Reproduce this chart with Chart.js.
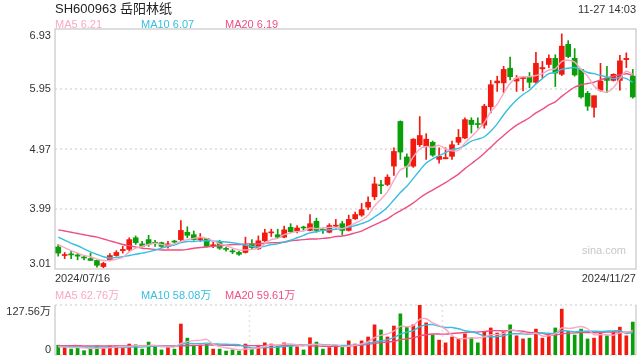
<!DOCTYPE html>
<html>
<head>
<meta charset="utf-8">
<script src="https://cdn.jsdelivr.net/npm/chart.js@4.4.1/dist/chart.umd.min.js"></script>
<style>
body{margin:0;background:#fff}
#wrap{position:relative;width:640px;height:360px;overflow:hidden;font-family:Arial,"Liberation Sans","Noto Sans CJK SC",sans-serif;color:#333}
canvas{position:absolute;left:0}
.t{position:absolute;white-space:nowrap;font-size:11px;line-height:11px}
</style>
</head>
<body>
<div id="wrap">
  <canvas id="kline" width="640" height="280" style="top:0"></canvas>
  <canvas id="vol" width="640" height="80" style="top:280px"></canvas>
  <div class="t" style="left:55px;top:2px;font-size:13px;line-height:13px;color:#222">SH600963 岳阳林纸</div>
  <div class="t" style="right:4px;top:4px;color:#333">11-27 14:03</div>
  <div class="t" style="left:55px;top:19px;color:#f9a8c4">MA5 6.21</div>
  <div class="t" style="left:141px;top:19px;color:#35bfe0">MA10 6.07</div>
  <div class="t" style="left:225px;top:19px;color:#ee4f83">MA20 6.19</div>
  <div class="t" style="left:582px;top:245px;color:#c8c8c8">sina.com</div>
  <div class="t" id="xFirst" style="left:55px;top:273px"></div>
  <div class="t" id="xLast" style="right:4px;top:273px"></div>
  <div class="t" style="left:55px;top:290px;color:#f9a8c4">MA5 62.76万</div>
  <div class="t" style="left:141px;top:290px;color:#35bfe0">MA10 58.08万</div>
  <div class="t" style="left:225px;top:290px;color:#ee4f83">MA20 59.61万</div>
</div>
<script>
// trading days 2024/07/16 .. 2024/11/27
const dates = [
  "2024/07/16","2024/07/17","2024/07/18","2024/07/19","2024/07/22","2024/07/23","2024/07/24","2024/07/25","2024/07/26","2024/07/29","2024/07/30","2024/07/31",
  "2024/08/01","2024/08/02","2024/08/05","2024/08/06","2024/08/07","2024/08/08","2024/08/09","2024/08/12","2024/08/13","2024/08/14","2024/08/15","2024/08/16",
  "2024/08/19","2024/08/20","2024/08/21","2024/08/22","2024/08/23","2024/08/26","2024/08/27","2024/08/28","2024/08/29","2024/08/30",
  "2024/09/02","2024/09/03","2024/09/04","2024/09/05","2024/09/06","2024/09/09","2024/09/10","2024/09/11","2024/09/12","2024/09/13",
  "2024/09/18","2024/09/19","2024/09/20","2024/09/23","2024/09/24","2024/09/25","2024/09/26","2024/09/27","2024/09/30",
  "2024/10/08","2024/10/09","2024/10/10","2024/10/11","2024/10/14","2024/10/15","2024/10/16","2024/10/17","2024/10/18","2024/10/21",
  "2024/10/22","2024/10/23","2024/10/24","2024/10/25","2024/10/28","2024/10/29","2024/10/30","2024/10/31",
  "2024/11/01","2024/11/04","2024/11/05","2024/11/06","2024/11/07","2024/11/08","2024/11/11","2024/11/12","2024/11/13","2024/11/14",
  "2024/11/15","2024/11/18","2024/11/19","2024/11/20","2024/11/21","2024/11/22","2024/11/25","2024/11/26","2024/11/27"
];

const opens = [
  3.37,3.23,3.25,3.24,3.20,3.18,3.15,3.05,3.16,3.23,
  3.31,3.33,3.52,3.42,3.49,3.44,3.44,3.38,3.46,3.49,
  3.61,3.57,3.49,3.51,3.39,3.46,3.34,3.30,3.28,3.28,
  3.42,3.34,3.47,3.60,3.57,3.53,3.69,3.63,3.69,3.64,
  3.79,3.65,3.61,3.71,3.75,3.64,3.83,3.89,4.02,4.19,
  4.38,4.39,4.69,5.42,4.84,4.69,5.04,5.01,5.08,4.80,
  4.81,4.85,5.08,5.15,5.44,5.38,5.36,5.66,6.05,6.05,
  6.29,6.08,6.12,6.14,6.06,6.28,6.35,6.45,6.19,6.68,
  6.45,6.27,5.88,5.65,5.93,6.13,6.09,6.09,6.43,6.16
];
const highs = [
  3.41,3.28,3.30,3.27,3.23,3.27,3.15,3.12,3.26,3.31,
  3.38,3.52,3.55,3.46,3.56,3.48,3.45,3.46,3.48,3.80,
  3.70,3.63,3.59,3.51,3.45,3.48,3.37,3.33,3.30,3.53,
  3.49,3.55,3.66,3.66,3.66,3.71,3.75,3.72,3.71,3.90,
  3.84,3.68,3.75,3.82,3.79,3.89,3.94,4.08,4.19,4.51,
  4.46,4.55,4.99,5.43,4.89,5.14,5.50,5.22,5.10,4.99,
  4.99,5.10,5.29,5.48,5.48,5.48,5.70,6.09,6.16,6.32,
  6.47,6.17,6.14,6.22,6.55,6.40,6.51,6.51,6.85,6.74,
  6.61,6.27,5.91,5.84,6.37,6.32,6.20,6.50,6.54,6.27
];
const lows = [
  3.22,3.18,3.18,3.16,3.16,3.15,3.04,3.03,3.14,3.22,
  3.27,3.30,3.41,3.37,3.38,3.38,3.36,3.35,3.43,3.46,
  3.52,3.48,3.46,3.37,3.36,3.33,3.30,3.26,3.23,3.27,
  3.34,3.33,3.46,3.54,3.52,3.52,3.60,3.60,3.64,3.63,
  3.61,3.59,3.60,3.68,3.57,3.63,3.82,3.87,3.98,4.14,
  4.24,4.37,4.54,4.80,4.51,4.67,5.01,4.80,4.85,4.74,
  4.81,4.80,5.04,5.14,5.23,5.31,5.31,5.56,5.91,5.89,
  6.10,5.91,5.92,5.97,6.04,6.13,6.30,5.99,6.17,6.46,
  6.16,5.80,5.60,5.49,5.91,5.89,6.08,5.93,6.30,5.80
];
const closes = [
  3.27,3.24,3.24,3.22,3.19,3.15,3.07,3.10,3.23,3.28,
  3.33,3.49,3.44,3.38,3.41,3.43,3.38,3.42,3.45,3.64,
  3.56,3.49,3.50,3.38,3.40,3.35,3.33,3.29,3.25,3.40,
  3.36,3.47,3.60,3.61,3.53,3.65,3.62,3.68,3.68,3.75,
  3.64,3.64,3.72,3.72,3.64,3.82,3.90,3.98,4.10,4.40,
  4.37,4.51,4.93,4.92,4.69,5.13,5.19,5.13,4.87,4.85,
  4.83,5.04,5.16,5.45,5.37,5.37,5.67,6.02,6.08,6.27,
  6.15,6.12,6.14,6.06,6.37,6.30,6.45,6.21,6.65,6.48,
  6.18,5.82,5.67,5.84,6.08,6.09,6.19,6.41,6.45,5.82
];

const ma5 = [
  3.41,3.36,3.31,3.27,3.23,3.21,3.17,3.15,3.15,3.17,
  3.20,3.29,3.35,3.38,3.41,3.43,3.41,3.40,3.42,3.46,
  3.49,3.51,3.53,3.51,3.47,3.42,3.39,3.35,3.32,3.32,
  3.33,3.35,3.42,3.49,3.51,3.57,3.60,3.62,3.63,3.68,
  3.67,3.68,3.69,3.69,3.67,3.71,3.76,3.81,3.89,4.04,
  4.15,4.27,4.46,4.63,4.68,4.84,4.97,5.01,5.00,5.03,
  4.97,4.94,4.95,5.07,5.17,5.28,5.40,5.58,5.70,5.88,
  6.04,6.13,6.15,6.15,6.17,6.20,6.26,6.28,6.40,6.42,
  6.39,6.27,6.16,6.00,5.92,5.90,5.97,6.12,6.24,6.19
];
const ma10 = [
  3.53,3.48,3.43,3.39,3.34,3.29,3.25,3.21,3.19,3.20,
  3.21,3.23,3.25,3.27,3.29,3.32,3.35,3.38,3.40,3.44,
  3.46,3.46,3.47,3.47,3.47,3.46,3.45,3.44,3.42,3.40,
  3.38,3.37,3.38,3.41,3.42,3.45,3.48,3.52,3.56,3.60,
  3.62,3.64,3.65,3.66,3.67,3.69,3.72,3.75,3.79,3.86,
  3.93,4.02,4.14,4.26,4.36,4.49,4.62,4.74,4.81,4.86,
  4.91,4.96,4.98,5.03,5.10,5.13,5.17,5.26,5.38,5.53,
  5.66,5.77,5.86,5.93,6.03,6.12,6.20,6.22,6.27,6.29,
  6.30,6.27,6.22,6.20,6.17,6.15,6.12,6.14,6.12,6.06
];
const ma20 = [
  3.65,3.63,3.61,3.59,3.57,3.55,3.53,3.50,3.47,3.44,
  3.41,3.39,3.37,3.35,3.34,3.33,3.32,3.32,3.32,3.32,
  3.33,3.35,3.36,3.37,3.38,3.39,3.40,3.41,3.41,3.42,
  3.42,3.42,3.43,3.44,3.44,3.45,3.47,3.48,3.49,3.50,
  3.50,3.51,3.52,3.54,3.55,3.57,3.60,3.63,3.68,3.73,
  3.78,3.83,3.90,3.96,4.02,4.09,4.17,4.24,4.30,4.36,
  4.42,4.49,4.56,4.65,4.73,4.81,4.90,5.00,5.10,5.19,
  5.28,5.36,5.42,5.48,5.56,5.62,5.69,5.74,5.83,5.91,
  5.98,6.02,6.04,6.06,6.10,6.13,6.16,6.18,6.20,6.17
];

// volume in 万 (10k shares)
const volumes = [
  25,21,15,20,11,17,23,17,23,23,
  19,28,26,15,33,21,13,21,15,79,
  43,25,25,27,15,15,10,13,10,28,
  15,25,31,28,25,31,25,21,13,44,
  33,15,19,21,21,36,28,36,46,77,
  64,46,74,105,71,77,127.56,82,51,38,
  31,46,42,54,44,31,60,69,56,59,
  77,49,41,43,66,43,51,69,117,60,
  51,66,41,43,60,49,60,71,49,84
];
const volMa5 = [
  21,20,19,19,18.4,16.8,17.2,17.6,18.2,20.6,
  21,22,23.8,22.2,24.2,24.6,21.6,20.6,20.6,29.8,
  34.2,36.6,37.4,39.8,27,21.4,18.4,16,12.6,15.2,
  15.2,18.2,21.8,25.4,24.8,28,28,26,23,26.8,
  27.2,25.2,24.8,26.4,21.8,22.4,25,28.4,33.4,44.6,
  50.2,53.8,61.4,73.2,72,74.6,90.9,92.5,81.7,75.1,
  65.9,49.6,41.6,42.2,43.4,43.4,46.2,51.6,52,55,
  64.2,62,56.4,53.8,55.2,48.4,48.8,54.4,69.2,68,
  69.6,72.6,67,52.2,52.2,51.8,50.6,56.6,57.8,62.6
];
const volMa10 = [
  22,22,21,21,20,20,20,20,19.5,19.5,
  18.9,19.6,20.7,20.2,22.4,22.8,21.8,22.2,21.4,27,
  29.4,29.1,29,30.2,28.4,27.8,27.5,26.7,26.2,21.1,
  18.3,18.3,18.9,19,20,21.6,23.1,23.9,24.2,25.8,
  27.6,26.6,25.4,24.7,24.3,24.8,25.1,26.6,29.9,33.2,
  36.3,39.4,44.9,53.3,58.3,62.4,72.4,77,77.5,73.6,
  70.3,70.3,67.1,62,59.3,54.7,47.9,46.6,47.1,49.2,
  53.8,54.1,54,52.9,55.1,56.3,55.4,55.4,61.5,61.6,
  59,60.7,60.7,60.7,60.1,60.7,61.6,61.8,55,57.4
];
const volMa20 = [
  24,24,24,24,23,23,23,23,23,23,
  23,23,23,23,23,23,23,23,23,23.3,
  24.2,24.4,24.9,25.2,25.4,25.3,24.7,24.5,23.8,24.1,
  23.9,23.7,24,24.6,24.2,24.7,25.3,25.3,25.2,23.5,
  23,22.5,22.2,21.9,22.2,23.2,24.1,25.3,27.1,29.5,
  32,33,35.2,39,41.3,43.6,48.7,51.8,53.7,53.4,
  53.3,54.8,56,57.6,58.8,58.5,60.1,61.8,62.3,61.4,
  62,62.2,60.5,57.4,57.2,55.5,51.7,51,54.3,55.4,
  56.4,57.4,57.4,56.8,57.6,58.5,58.5,58.6,58.3,59.5
];

const priceTicks = [3.01, 3.99, 4.97, 5.95, 6.93];
const volTicks = [0, 127.56];
const volTickLabels = ["0", "127.56万"];

const RED = "#f2190f";
const GREEN = "#0a9e0a";
const C_MA5 = "#f9a8c4";
const C_MA10 = "#35bfe0";
const C_MA20 = "#ee4f83";

const candleColors = closes.map((c, i) => (c >= opens[i] ? RED : GREEN));

function maLine(data, color){
  return {type:"line", data, borderColor:color, borderWidth:1.4, pointRadius:0, tension:0.3, fill:false, order:0};
}

// border + dotted grid, drawn under the marks
const frame = {
  id: "frame",
  beforeDatasetsDraw(chart, args, opts){
    const {ctx, chartArea:a, scales:{x, y}} = chart;
    ctx.save();
    ctx.lineWidth = 2;
    ctx.strokeStyle = "#e3e3e3";
    ctx.setLineDash([2, 3]);
    opts.hLines.forEach(v => {
      const py = Math.round(y.getPixelForValue(v));
      ctx.beginPath(); ctx.moveTo(a.left, py); ctx.lineTo(a.right, py); ctx.stroke();
    });
    (opts.vFractions || []).forEach(f => {
      const px = Math.round(a.left + (a.right - a.left) * f) + 0.5;
      ctx.lineWidth = 1.5;
      ctx.beginPath(); ctx.moveTo(px, a.top); ctx.lineTo(px, a.bottom); ctx.stroke();
    });
    ctx.setLineDash([]);
    ctx.strokeStyle = "#d2d2d2";
    ctx.lineWidth = 1.5;
    if(opts.box){
      ctx.strokeRect(a.left, a.top, a.right - a.left, a.bottom - a.top);
    }else{
      ctx.beginPath();
      ctx.moveTo(a.left, a.top); ctx.lineTo(a.left, a.bottom);
      ctx.moveTo(a.right, a.top); ctx.lineTo(a.right, a.bottom);
      ctx.stroke();
    }
    ctx.restore();
  }
};

const baseOpts = {
  responsive: false,
  animation: false,
  events: [],
  plugins: {legend:{display:false}, tooltip:{enabled:false}},
};

const kChart = new Chart(document.getElementById("kline"), {
  type: "bar",
  data: {
    labels: dates,
    datasets: [
      maLine(ma5, C_MA5),
      maLine(ma10, C_MA10),
      maLine(ma20, C_MA20),
      {data: opens.map((o, i) => [o, closes[i]]), backgroundColor:candleColors, barThickness:5, minBarLength:1, grouped:false, order:1},
      {data: lows.map((l, i) => [l, highs[i]]), backgroundColor:candleColors, barThickness:1, grouped:false, order:2}
    ]
  },
  options: {
    ...baseOpts,
    layout: {padding:{left:55, right:4, top:29, bottom:11}},
    scales: {
      x: {display:false, offset:true},
      y: {display:false, min:priceTicks[0], max:priceTicks[priceTicks.length - 1]}
    },
    plugins: {...baseOpts.plugins, frame:{hLines:priceTicks.slice(1, -1), box:true}}
  },
  plugins: [frame]
});

const vChart = new Chart(document.getElementById("vol"), {
  type: "bar",
  data: {
    labels: dates,
    datasets: [
      maLine(volMa5, C_MA5),
      maLine(volMa10, C_MA10),
      maLine(volMa20, C_MA20),
      {data: volumes, backgroundColor:candleColors, barThickness:3, grouped:false, order:1}
    ]
  },
  options: {
    ...baseOpts,
    layout: {padding:{left:55, right:4, top:25, bottom:5}},
    scales: {
      x: {display:false, offset:true},
      y: {display:false, min:volTicks[0], max:volTicks[1]}
    },
    plugins: {...baseOpts.plugins, frame:{hLines:volTicks, vFractions:[1/3, 2/3], box:false}}
  },
  plugins: [frame]
});

// axis labels as text, placed from the chart scales
const wrap = document.getElementById("wrap");
function label(text, rightX, cy){
  const d = document.createElement("div");
  d.className = "t";
  d.textContent = text;
  d.style.right = (640 - rightX) + "px";
  d.style.top = Math.round(cy - 5.5) + "px";
  wrap.appendChild(d);
}
function clampY(py, area){ return Math.min(Math.max(py, area.top + 6), area.bottom - 6); }

priceTicks.forEach(v => {
  const py = kChart.scales.y.getPixelForValue(v);
  label(v.toFixed(2), 51, clampY(py, kChart.chartArea));
});
volTicks.forEach((v, i) => {
  const py = vChart.scales.y.getPixelForValue(v);
  label(volTickLabels[i], 51, 280 + clampY(py, vChart.chartArea));
});
document.getElementById("xFirst").textContent = dates[0];
document.getElementById("xLast").textContent = dates[dates.length - 1];
</script>
</body>
</html>
